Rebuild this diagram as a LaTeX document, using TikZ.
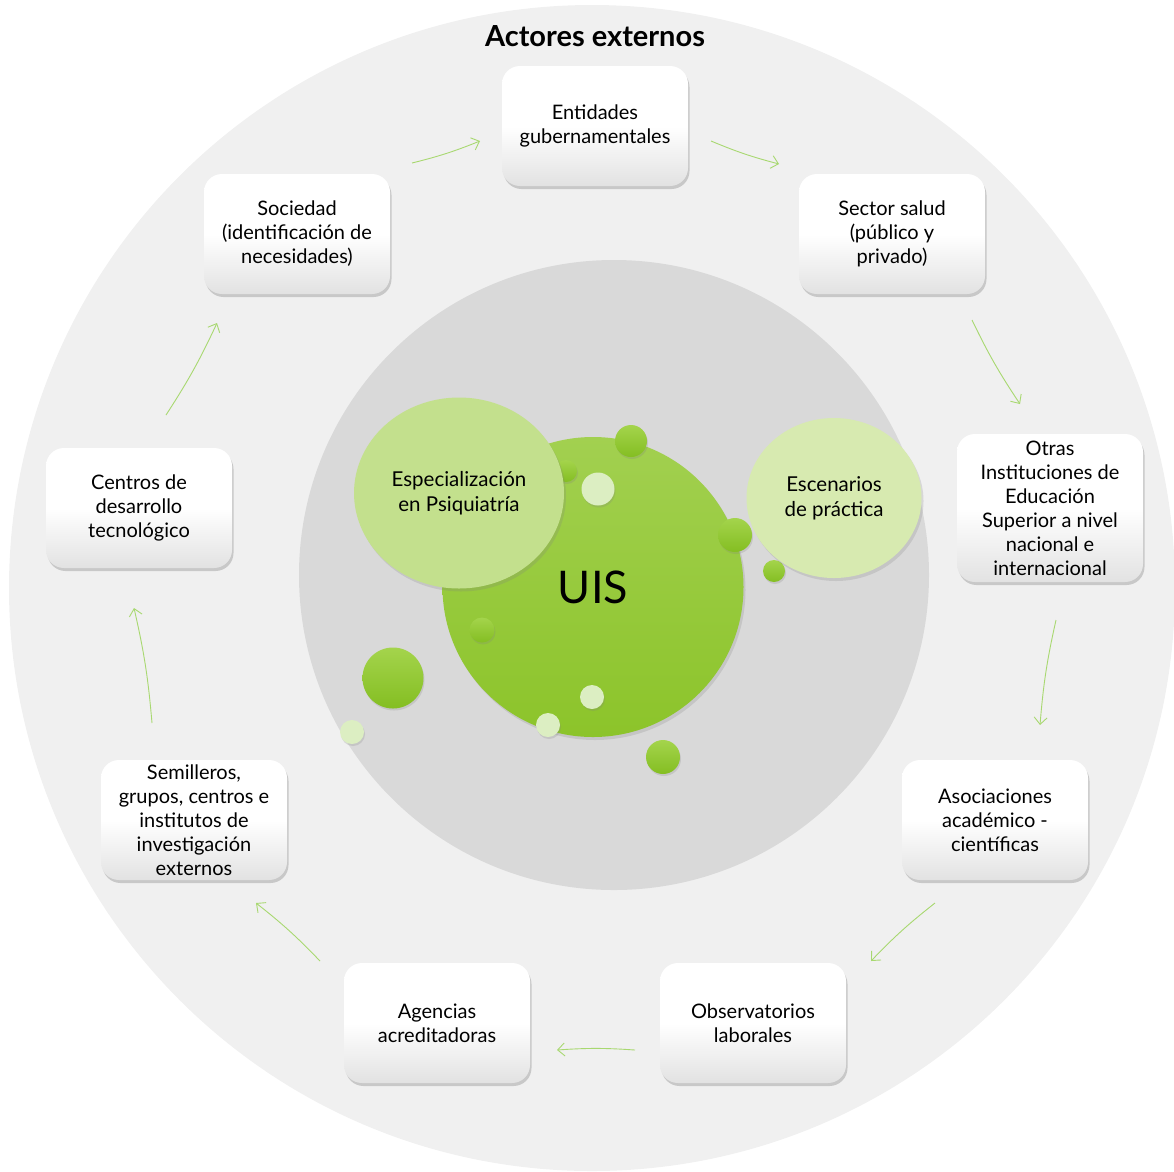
\documentclass[tikz,border=0pt]{standalone}
\usepackage{fontspec}
\setmainfont{Lato}
\usetikzlibrary{arrows.meta,shadows,shapes.geometric}
\definecolor{outerbg}{HTML}{F0F0F0}
\definecolor{innerbg}{HTML}{D9D9D9}
\definecolor{uisA}{HTML}{A2D050}
\definecolor{uisB}{HTML}{8CC42A}
\definecolor{smA}{HTML}{A4D44C}
\definecolor{smB}{HTML}{84BE22}
\definecolor{smlight}{HTML}{DCEEC2}
\definecolor{espc}{HTML}{C3E08D}
\definecolor{escc}{HTML}{D7EAB0}
\definecolor{arrc}{HTML}{A8D870}
\definecolor{boxbot}{HTML}{E2E2E2}
\tikzset{
  box/.style={draw=none, rounded corners=18pt, minimum width=186pt, minimum height=120pt,
    inner sep=0pt, align=center, font=\fontsize{20}{24}\selectfont,
    top color=white, bottom color=boxbot, middle color=white,
    drop shadow={opacity=0.35, shadow xshift=1.5pt, shadow yshift=-3pt}},
  bigc/.style={ellipse, draw=none, inner sep=0pt, align=center,
    drop shadow={opacity=0.22, shadow xshift=2pt, shadow yshift=-3pt}},
  smg/.style={circle, draw=none, inner sep=0pt, top color=smA, bottom color=smB,
    drop shadow={opacity=0.22, shadow xshift=1pt, shadow yshift=-2pt}},
  sml/.style={circle, draw=none, inner sep=0pt, fill=smlight,
    drop shadow={opacity=0.22, shadow xshift=1pt, shadow yshift=-2pt}},
  flow/.style={draw=arrc, line width=0.9pt, -{Straight Barb[length=7pt,width=13pt]}},
}
\begin{document}
\begin{tikzpicture}[x=1pt,y=-1pt]
\useasboundingbox (0,0) rectangle (1174,1171);
\begin{scope}
\clip (0,0) rectangle (1174,1171);
\fill[outerbg] (592,588) circle (583);
\end{scope}
\fill[innerbg] (614,575) circle (315);
\node[font=\fontsize{29}{32}\selectfont\bfseries] (title) at (595,36) {Actores externos};

% central circles
\node[bigc, minimum width=301pt, minimum height=300pt, top color=uisA, bottom color=uisB, font=\fontsize{45}{48}\selectfont] (uis) at (593,587) {UIS};
\node[smg, minimum size=22pt] (s1) at (566,471) {};
\node[smg, minimum size=32pt] (s2) at (631,441) {};
\node[sml, minimum size=33pt] (s3) at (598,489) {};
\node[smg, minimum size=34pt] (s4) at (735,535) {};
\node[smg, minimum size=22pt] (s5) at (774,571) {};
\node[smg, minimum size=25pt] (s6) at (482,630) {};
\node[smg, minimum size=61pt] (s7) at (393,678) {};
\node[sml, minimum size=24pt] (s8) at (352,732) {};
\node[sml, minimum size=24pt] (s9) at (592,697) {};
\node[sml, minimum size=24pt] (s10) at (548,725) {};
\node[smg, minimum size=34pt] (s11) at (663,757) {};
\node[bigc, minimum width=210pt, minimum height=191pt, fill=espc, font=\fontsize{20.5}{25}\selectfont] (esp) at (459,493) {Especialización\\en Psiquiatría};
\node[bigc, minimum width=175pt, minimum height=160pt, fill=escc, font=\fontsize{20.5}{25}\selectfont] (esc) at (834,498) {Escenarios\\de práctica};

% boxes
\node[box] (ent) at (595,126) {Entidades\\gubernamentales};
\node[box] (sal) at (892,234) {Sector salud\\(público y\\privado)};
\node[box, minimum height=148pt] (otr) at (1050,508) {Otras\\Instituciones de\\Educación\\Superior a nivel\\nacional e\\internacional};
\node[box] (aso) at (995,820) {Asociaciones\\académico -\\científicas};
\node[box] (obs) at (753,1023) {Observatorios\\laborales};
\node[box] (age) at (437,1023) {Agencias\\acreditadoras};
\node[box] (sem) at (194,820) {Semilleros,\\grupos, centros e\\institutos de\\investigación\\externos};
\node[box] (cen) at (139,508) {Centros de\\desarrollo\\tecnológico};
\node[box] (soc) at (297,234) {Sociedad\\(identificación de\\necesidades)};

% arrow end points
\coordinate (a1s) at (412,163); \coordinate (a1e) at (480,141);
\coordinate (a2s) at (711,141); \coordinate (a2e) at (779,164);
\coordinate (a3s) at (972,320); \coordinate (a3e) at (1020,404);
\coordinate (a4s) at (1056,620); \coordinate (a4e) at (1040,725);
\coordinate (a5s) at (935,903); \coordinate (a5e) at (871,961);
\coordinate (a6s) at (635,1050); \coordinate (a6e) at (557,1050);
\coordinate (a7s) at (320,961); \coordinate (a7e) at (256,903);
\coordinate (a8s) at (152,723); \coordinate (a8e) at (134,608);
\coordinate (a9s) at (166,415); \coordinate (a9e) at (217,323);
\foreach \i in {1,...,9}{
  \draw[flow] (a\i s) to[bend right=4] (a\i e);
}
\end{tikzpicture}
\end{document}
